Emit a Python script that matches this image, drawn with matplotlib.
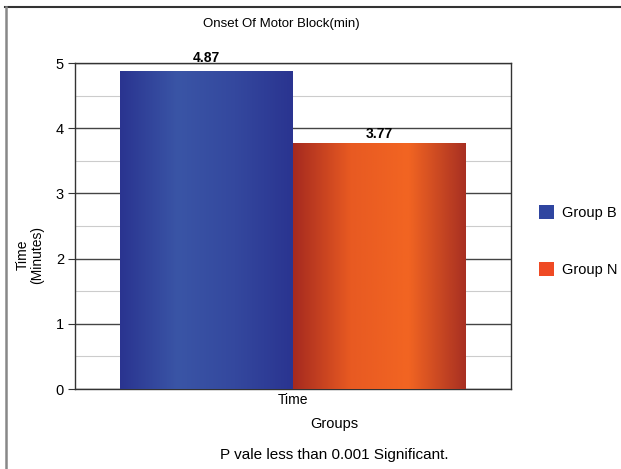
import numpy as np
import matplotlib
matplotlib.use("Agg")
import matplotlib.pyplot as plt
from matplotlib.colors import LinearSegmentedColormap
from matplotlib.lines import Line2D
from matplotlib.patches import Patch

plt.rcParams['font.family'] = ['Liberation Sans', 'DejaVu Sans']

groups = ["Group B", "Group N"]
values = [4.87, 3.77]
category = "Time"
colors = ["#2f45a0", "#ef4a24"]
# horizontal shading for each bar: edge -> highlight -> edge
shades = [
    ["#2a3490", "#3a55a6", "#34489e", "#2a3490"],
    ["#a52a1f", "#e85a22", "#f26522", "#a83022"],
]

fig = plt.figure(figsize=(6.21, 4.69), dpi=100)
ax = fig.add_axes([75 / 621, 1 - 389 / 469, (511 - 75) / 621, (389 - 63) / 469])

width = 173 / 436
offsets = [-width / 2, width / 2]
for g, v, off, col, sh in zip(groups, values, offsets, colors, shades):
    bar = ax.bar(off, v, width=width, color=col, zorder=3, linewidth=0)[0]
    cmap = LinearSegmentedColormap.from_list(g, sh)
    grad = np.linspace(0, 1, 256).reshape(1, -1)
    x0 = off - width / 2
    im = ax.imshow(grad, cmap=cmap, aspect='auto', extent=[x0, x0 + width, 0, v],
                   zorder=4, interpolation='bicubic')
    im.set_clip_path(bar)
    ax.text(off, 4.97 if v > 4.8 else v + 0.03, f"{v:.2f}", ha='center', va='bottom',
            fontsize=10, fontweight='bold', zorder=6)

ax.set_xlim(-0.5, 0.5)
ax.set_ylim(0, 5)
ax.set_yticks(range(0, 6))
ax.set_yticks(np.arange(0.5, 5, 1.0), minor=True)
ax.tick_params(axis='y', which='major', length=5, direction='out', color='#333333',
               labelsize=10.5, pad=3)
ax.tick_params(axis='y', which='minor', length=0)
ax.set_xticks([0])
ax.set_xticklabels([category])
ax.tick_params(axis='x', length=0, labelsize=10, pad=3)
ax.grid(axis='y', which='major', color='#444444', linewidth=1.0, zorder=1)
ax.grid(axis='y', which='minor', color='#cccccc', linewidth=0.8, zorder=1)
ax.set_axisbelow(True)
for s in ['left', 'right', 'bottom', 'top']:
    ax.spines[s].set_color('#333333')
    ax.spines[s].set_linewidth(1.0)

fig.text(281 / 621, 1 - 24 / 469, "Onset Of Motor Block(min)", ha='center', va='center',
         fontsize=9.5)
fig.text(334 / 621, 1 - 424 / 469, "Groups", ha='center', va='center', fontsize=10.5)
fig.text(334 / 621, 1 - 455 / 469, "P vale less than 0.001 Significant.", ha='center',
         va='center', fontsize=11)
fig.text(30 / 621, 1 - 255 / 469, "Time\n(Minutes)", ha='center', va='center',
         rotation=90, fontsize=10, linespacing=1.0)

# legend
handles = [Patch(facecolor=c, edgecolor='none') for c in colors]
fig.legend(handles, groups, loc='center left', bbox_to_anchor=(526 / 621, 1 - 241 / 469),
           frameon=False, fontsize=10.5, handlelength=1.0, handleheight=1.1,
           handletextpad=0.6, labelspacing=2.9)

# outer frame: top and left edges
fig.add_artist(Line2D([5 / 621, 1], [1 - 7 / 469, 1 - 7 / 469], color='#333333', lw=1.5,
                      transform=fig.transFigure))
fig.add_artist(Line2D([6 / 621, 6 / 621], [0, 1 - 7 / 469], color='#888888', lw=1.8,
                      transform=fig.transFigure))

fig.savefig("out.png", dpi=100)
